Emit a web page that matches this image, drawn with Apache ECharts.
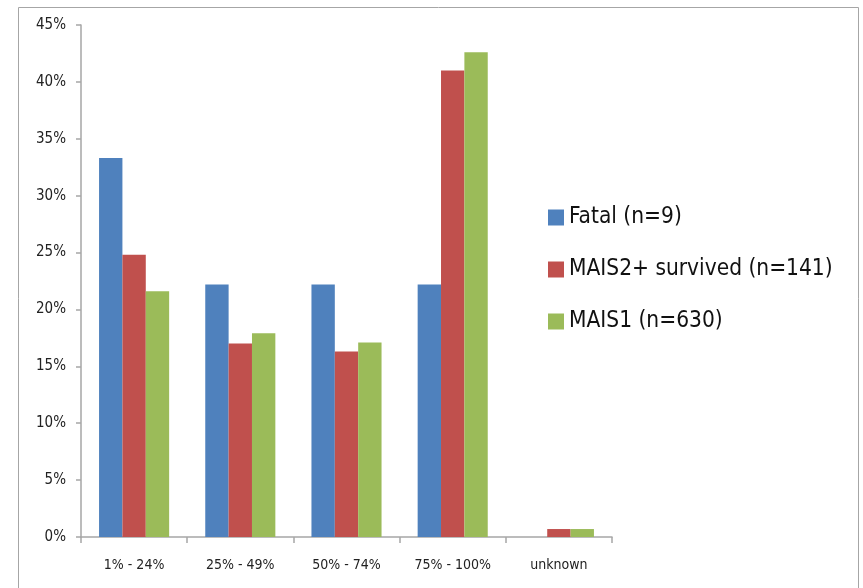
<!DOCTYPE html>
<html>
<head>
<meta charset="utf-8">
<script src="https://cdn.jsdelivr.net/npm/echarts@6/dist/echarts.min.js"></script>
<style>
  html, body { margin: 0; padding: 0; background: #fff; }
  #chart { width: 863px; height: 588px; }
</style>
</head>
<body>
<div id="chart"></div>
<script>
// Share of cases by category, per injury outcome group (percent)
const categories = ['1% - 24%', '25% - 49%', '50% - 74%', '75% - 100%', 'unknown'];
const seriesNames = ['Fatal (n=9)', 'MAIS2+ survived (n=141)', 'MAIS1 (n=630)'];
const fatal = [33.3, 22.2, 22.2, 22.2, 0];
const mais2 = [24.8, 17.0, 16.3, 41.0, 0.7];
const mais1 = [21.6, 17.9, 17.1, 42.6, 0.7];
const yTicks = [0, 5, 10, 15, 20, 25, 30, 35, 40, 45];

const colors = ['#4F81BD', '#C0504D', '#9BBB59'];
const font = '"Liberation Sans Narrow", "DejaVu Sans Condensed", "Liberation Sans", sans-serif';
const axisGray = '#a6a6a6';

const chart = echarts.init(document.getElementById('chart'));
const values = [fatal, mais2, mais1];

chart.setOption({
  animation: false,
  backgroundColor: '#fff',
  color: colors,
  graphic: [{
    type: 'rect',
    shape: { x: 18.5, y: 7.5, width: 840, height: 620 },
    style: { fill: 'none', stroke: axisGray, lineWidth: 1 },
    silent: true
  }],
  grid: { left: 81, right: 251, top: 25, bottom: 51, containLabel: false },
  legend: {
    orient: 'vertical',
    left: 543,
    top: 201,
    itemWidth: 16,
    itemHeight: 16,
    itemGap: 29,
    icon: 'rect',
    textStyle: { fontFamily: font, fontSize: 22.5, color: '#111' },
    data: seriesNames
  },
  xAxis: {
    type: 'category',
    data: categories,
    axisLine: { lineStyle: { color: axisGray, width: 1.5 } },
    axisTick: { show: true, length: 6, lineStyle: { color: axisGray, width: 1.5 } },
    axisLabel: { fontFamily: font, fontSize: 14, color: '#222', margin: 21 }
  },
  yAxis: {
    type: 'value',
    min: yTicks[0],
    max: yTicks[yTicks.length - 1],
    interval: 5,
    splitLine: { show: false },
    axisLine: { show: true, lineStyle: { color: axisGray, width: 1.5 } },
    axisTick: { show: true, length: 5, lineStyle: { color: axisGray, width: 1.5 } },
    axisLabel: { fontFamily: font, fontSize: 15, color: '#222', margin: 15, formatter: '{value}%' }
  },
  series: seriesNames.map((name, i) => ({
    name: name,
    type: 'bar',
    data: values[i],
    barGap: '0%',
    barCategoryGap: '34%',
    itemStyle: { color: colors[i] }
  }))
});
</script>
</body>
</html>
